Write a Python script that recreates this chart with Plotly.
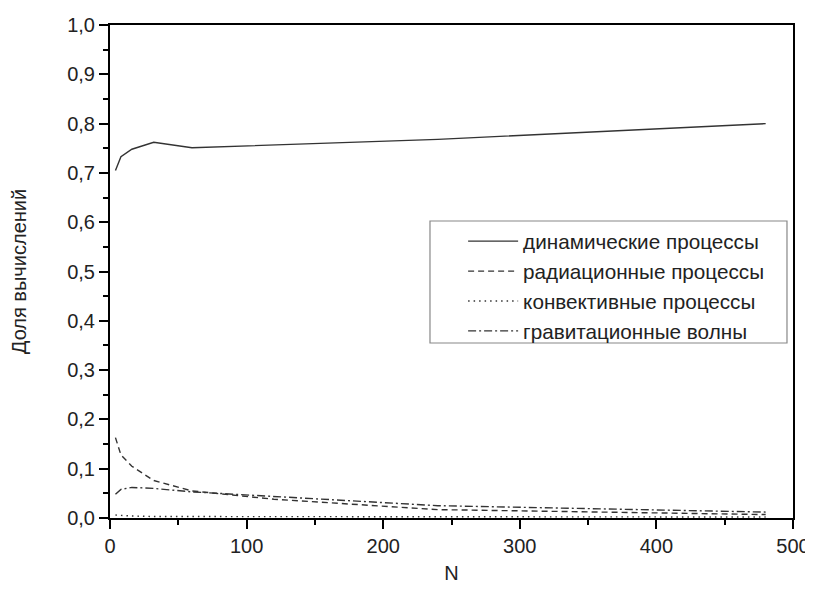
import plotly.graph_objects as go

N = [4, 8, 16, 32, 60, 120, 240, 480]
dynamic = [0.705, 0.733, 0.748, 0.762, 0.751, 0.757, 0.768, 0.800]
radiation = [0.163, 0.128, 0.105, 0.076, 0.055, 0.038, 0.017, 0.007]
convective = [0.006, 0.005, 0.004, 0.003, 0.003, 0.002, 0.002, 0.002]
gravity = [0.048, 0.058, 0.062, 0.060, 0.053, 0.044, 0.025, 0.012]

names = ["динамические процессы", "радиационные процессы",
         "конвективные процессы", "гравитационные волны"]
series = [dynamic, radiation, convective, gravity]
dashes = ["solid", "6px,4px", "1.5px,4px", "8px,3px,2px,3px"]

FONT = "Liberation Sans, Arial, sans-serif"

fig = go.Figure()
for nm, ys, d in zip(names, series, dashes):
    fig.add_trace(go.Scatter(x=N, y=ys, name=nm, mode="lines",
                             line=dict(color="#333333", width=1.4, dash=d)))

axis_common = dict(showline=True, linecolor="black", linewidth=2, mirror=True,
                   ticks="outside", ticklen=9, tickwidth=2, tickcolor="black",
                   showgrid=False, zeroline=False, automargin=False,
                   tickfont=dict(family=FONT, size=20, color="#222"))

fig.update_xaxes(range=[0, 500], dtick=100, tick0=0,
                 minor=dict(dtick=50, ticks="outside", ticklen=5, tickwidth=2, tickcolor="black"),
                 title=dict(text="N", font=dict(family=FONT, size=20, color="#222"),
                            standoff=10),
                 **axis_common)
fig.update_yaxes(range=[0, 1], dtick=0.1, tick0=0, tickformat=".1f",
                 minor=dict(dtick=0.05, ticks="outside", ticklen=5, tickwidth=2, tickcolor="black"),
                 title=dict(text="Доля вычислений", font=dict(family=FONT, size=20, color="#222"),
                            standoff=35),
                 **axis_common)

# legend frame (Origin-style box with wide left padding)
fig.add_shape(type="rect", xref="paper", yref="paper",
              x0=0.4685, x1=0.9912, y0=0.355, y1=0.6024,
              line=dict(color="#888888", width=1.2), fillcolor="white", layer="below")

# page body has an 8px margin, so the figure is sized 8px smaller to fit the window
fig.update_layout(
    width=805, height=582,
    margin=dict(l=102, r=20, t=17, b=72),
    paper_bgcolor="white", plot_bgcolor="white",
    separators=", ",
    showlegend=True,
    legend=dict(x=0.517, y=0.602, xanchor="left", yanchor="top",
                borderwidth=0, bgcolor="rgba(0,0,0,0)",
                font=dict(family=FONT, size=20.7, color="#222"),
                itemwidth=50, tracegroupgap=0),
)

fig.write_html("out.html")
